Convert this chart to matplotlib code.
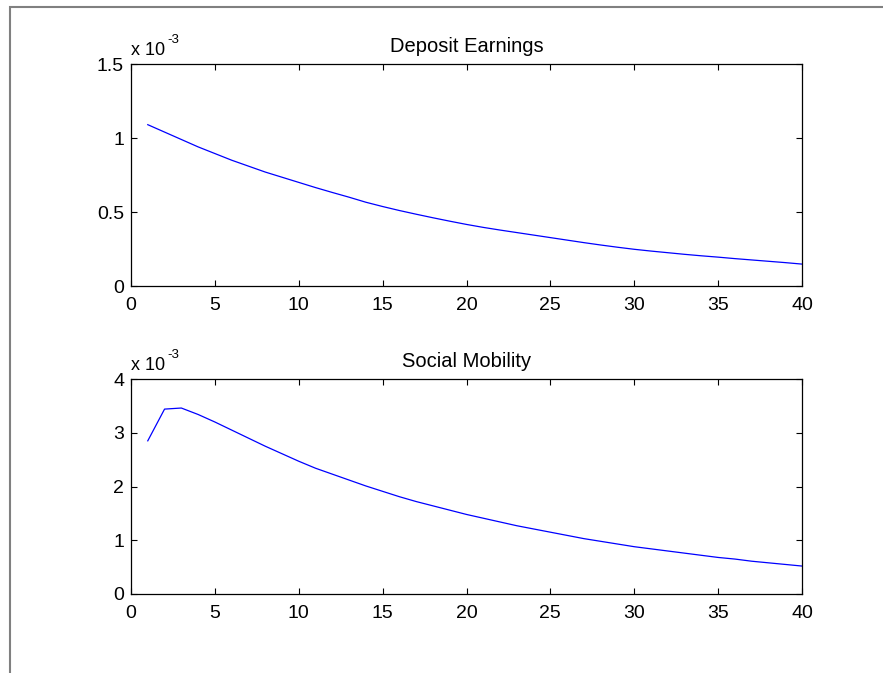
import numpy as np
import matplotlib
matplotlib.use('Agg')
import matplotlib.pyplot as plt
from matplotlib.patches import Rectangle

plt.rcParams['font.family'] = ['Liberation Sans', 'DejaVu Sans']

# horizon (periods)
periods = np.arange(1, 41)

# impulse responses, in units of 1e-3
deposit_earnings = [1.09, 1.04, 0.99, 0.94, 0.895, 0.85, 0.81, 0.77, 0.735, 0.70,
                    0.665, 0.632, 0.600, 0.566, 0.537, 0.510, 0.485, 0.461, 0.438, 0.416,
                    0.396, 0.378, 0.361, 0.344, 0.327, 0.310, 0.293, 0.277, 0.262, 0.248,
                    0.236, 0.225, 0.214, 0.204, 0.195, 0.185, 0.176, 0.167, 0.158, 0.148]
social_mobility = [2.85, 3.44, 3.46, 3.34, 3.20, 3.05, 2.90, 2.75, 2.61, 2.47,
                   2.34, 2.23, 2.12, 2.01, 1.91, 1.81, 1.72, 1.64, 1.56, 1.48,
                   1.41, 1.34, 1.27, 1.21, 1.15, 1.09, 1.03, 0.98, 0.93, 0.88,
                   0.84, 0.80, 0.76, 0.72, 0.68, 0.65, 0.61, 0.58, 0.55, 0.52]

panels = [
    ('Deposit Earnings', deposit_earnings, [0, 0.5, 1, 1.5], ['0', '0.5', '1', '1.5']),
    ('Social Mobility', social_mobility, [0, 1, 2, 3, 4], ['0', '1', '2', '3', '4']),
]
xticks = [0, 5, 10, 15, 20, 25, 30, 35, 40]

W, H = 883, 673
fig = plt.figure(figsize=(W / 100, H / 100), dpi=100)

# grey window frame
fig.patches.append(Rectangle((9.5 / W, -0.1), 1.2, 1 - 7 / H + 0.1, transform=fig.transFigure,
                             fill=False, edgecolor='#808080', linewidth=1.5))

boxes = [(131, 64, 802, 286), (131, 379, 802, 594)]

for (title, vals, yt, ytl), (x0, y0, x1, y1) in zip(panels, boxes):
    ax = fig.add_axes([x0 / W, 1 - y1 / H, (x1 - x0) / W, (y1 - y0) / H])
    ax.plot(periods, vals, color='#0000ff', linewidth=0.9)
    ax.set_xlim(0, 40)
    ax.set_ylim(yt[0], yt[-1])
    ax.set_xticks(xticks)
    ax.set_xticklabels([str(t) for t in xticks])
    ax.set_yticks(yt)
    ax.set_yticklabels(ytl)
    ax.tick_params(direction='in', length=4, width=0.8, top=True, right=True,
                   labelsize=14, colors='black')
    ax.tick_params(axis='x', pad=8)
    ax.tick_params(axis='y', pad=5)
    for s in ax.spines.values():
        s.set_linewidth(0.9)
    ax.set_title(title, fontsize=14.5, pad=8.5)
    # axis multiplier
    ax.annotate('x 10', xy=(0, 1), xycoords='axes fraction', xytext=(0, 6.5),
                textcoords='offset points', fontsize=13, ha='left', va='baseline')
    ax.annotate('-3', xy=(0, 1), xycoords='axes fraction', xytext=(26.5, 15),
                textcoords='offset points', fontsize=9.5, ha='left', va='baseline')

fig.savefig('out.png', dpi=100)
